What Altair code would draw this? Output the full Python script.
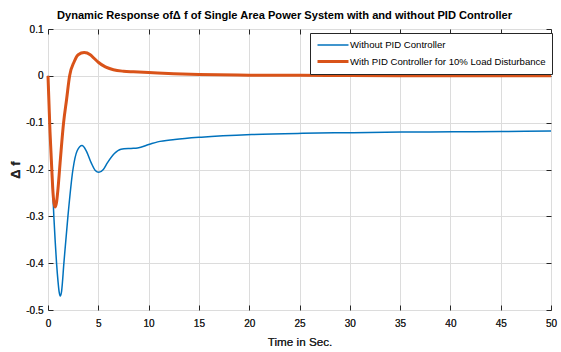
import altair as alt
import pandas as pd

# Without PID controller (blue)
t_blue = [0, 0.1, 0.2, 0.3, 0.38, 0.48, 0.58, 0.72, 0.85, 1.0, 1.1, 1.22, 1.35, 1.58, 1.98, 2.48,
          2.9, 3.38, 3.8, 4.3, 4.7, 5.05, 5.5, 5.9, 6.6, 7.25, 8.25, 8.9, 10.1, 10.9, 12.6, 15.25,
          20.25, 25.3, 30.3, 35.3, 40.3, 45.0, 50.0]
v_blue = [0, -0.06, -0.12, -0.165, -0.2, -0.25, -0.3, -0.355, -0.4, -0.44, -0.46, -0.47, -0.46, -0.4, -0.3, -0.2,
          -0.16, -0.149, -0.16, -0.186, -0.202, -0.206, -0.2, -0.186, -0.166, -0.157, -0.155, -0.154, -0.146, -0.141, -0.136, -0.131,
          -0.1255, -0.1228, -0.1213, -0.12, -0.1195, -0.1188, -0.118]

# With PID controller (orange)
t_or = [0, 0.1, 0.2, 0.3, 0.4, 0.5, 0.6, 0.72, 0.85, 1.0, 1.15, 1.3, 1.55, 1.85, 2.15, 2.6, 3.0, 3.6,
        4.2, 4.6, 5.0, 5.7, 6.5, 7.5, 8.5, 10.0, 12.5, 15.0, 20.0, 25.0, 30.0, 40.0, 50.0]
v_or = [0, -0.06, -0.12, -0.165, -0.21, -0.25, -0.272, -0.28, -0.27, -0.24, -0.2, -0.16, -0.1, -0.05, 0.0, 0.03, 0.045, 0.0496,
        0.045, 0.037, 0.029, 0.019, 0.013, 0.0098, 0.0085, 0.007, 0.0045, 0.003, 0.0015, 0.001, 0.0005, 0.0002, 0.0]

names = ["Without PID Controller", "With PID Controller for 10% Load Disturbance"]
colors = ["#0072BD", "#D95319"]
widths = [1.5, 3.0]

x_ticks = [0, 5, 10, 15, 20, 25, 30, 35, 40, 45, 50]
y_ticks = [0.1, 0, -0.1, -0.2, -0.3, -0.4, -0.5]

df_b = pd.DataFrame({"t": t_blue, "v": v_blue, "s": names[0]})
df_o = pd.DataFrame({"t": t_or, "v": v_or, "s": names[1]})

FONT = "Liberation Sans"
TXT = "#262626"
GRID = "#dcdcdc"

xscale = alt.Scale(domain=[0, 50], nice=False)
yscale = alt.Scale(domain=[-0.5, 0.1], nice=False)

xenc = alt.X("t:Q", scale=xscale,
             axis=alt.Axis(values=x_ticks, title="Time in Sec.", grid=True, ticks=False, orient="bottom",
                           domain=False, labelPadding=8, titlePadding=8, labelFontSize=10,
                           titleFontSize=11.7, labelColor=TXT, titleColor=TXT, labelFont=FONT,
                           titleFont=FONT, titleFontWeight=400,
                           gridColor=GRID, labelFlush=False))
yenc = alt.Y("v:Q", scale=yscale,
             axis=alt.Axis(values=y_ticks, title="Δ f", grid=True, ticks=False, domain=False, orient="left",
                           labelPadding=5, titlePadding=3, labelFontSize=10, titleFontSize=13,
                           labelColor=TXT, titleColor=TXT, labelFont=FONT, titleFont=FONT,
                           titleFontWeight="bold", gridColor=GRID,
                           labelExpr="datum.value == 0 ? '0' : (datum.value < 0 ? '-' : '') + format(abs(datum.value), '.1f')"))

color = alt.Color("s:N", scale=alt.Scale(domain=names, range=colors),
                  legend=alt.Legend(title=None, orient="none", legendX=262, legendY=4,
                                    symbolType="M-1,0H5.2", symbolSize=100, labelFontSize=9.6,
                                    labelFont=FONT, labelColor="#000", labelLimit=400,
                                    strokeColor="#262626", fillColor="white", padding=6,
                                    rowPadding=5, symbolStrokeWidth=2.5, labelOffset=21,
                                    symbolFillColor="transparent"))
sw = alt.StrokeWidth("s:N", scale=alt.Scale(domain=names, range=widths), legend=None)

blue = alt.Chart(df_b).mark_line(interpolate="monotone").encode(x=xenc, y=yenc, color=color, strokeWidth=sw)
orange = alt.Chart(df_o).mark_line(interpolate="monotone").encode(x=xenc, y=yenc, color=color, strokeWidth=sw)


def tick_layer(xorient, yorient):
    return alt.Chart(df_b).mark_line(strokeOpacity=0).encode(
        x=alt.X("t:Q", scale=xscale,
                axis=alt.Axis(values=x_ticks, orient=xorient, labels=False, grid=False, domain=False,
                              ticks=True, tickSize=5, tickColor=TXT, offset=-5, title=None)),
        y=alt.Y("v:Q", scale=yscale,
                axis=alt.Axis(values=y_ticks, orient=yorient, labels=False, grid=False, domain=False,
                              ticks=True, tickSize=5, tickColor=TXT, offset=-5, title=None)),
    )


chart = alt.layer(blue, orange, tick_layer("top", "right"), tick_layer("bottom", "left")).resolve_axis(
    x="independent", y="independent"
).properties(
    width=503, height=281,
    title=alt.TitleParams("Dynamic Response ofΔ f of Single Area Power System with and without PID Controller",
                          font=FONT, fontSize=11.1, fontWeight="bold", color="#000", anchor="middle",
                          offset=3, dx=-15),
    padding={"left": 48, "top": 29, "right": 10, "bottom": 42},
    autosize=alt.AutoSizeParams(type="none"),
).configure_view(stroke=TXT, strokeWidth=1)

chart.save("out.html", embed_options={"renderer": "svg", "actions": False})
